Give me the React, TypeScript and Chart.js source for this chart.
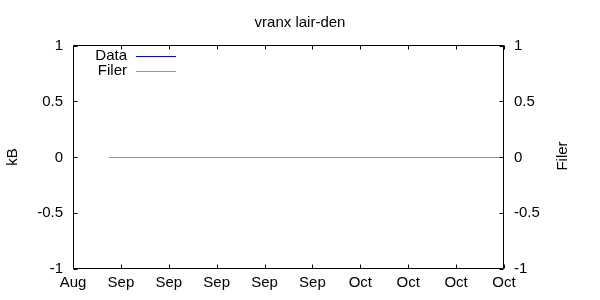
import React, { useEffect, useRef } from "react";
import { Chart, registerables } from "chart.js";

Chart.register(...registerables);

const titleText = "vranx lair-den";
const yLeftTitle = "kB";
const yRightTitle = "Filer";
const xTickLabels = ["Aug", "Sep", "Sep", "Sep", "Sep", "Sep", "Oct", "Oct", "Oct", "Oct"];
const yTicks = [-1, -0.5, 0, 0.5, 1];
const dataSeriesName = "Data";
const filerSeriesName = "Filer";
const dataX: number[] = [];
const dataY: number[] = [];
const filerX = [0.75, 9];
const filerY = [0, 0];

const FONT = '"Liberation Sans", Arial, sans-serif';
const BLUE = "#0000ff";
const GREEN = "#00ff00";

const framePlugin = {
  id: "gnuframe",
  afterDraw(chart: any) {
    const ctx = chart.ctx;
    const a = chart.chartArea;
    const xs = chart.scales.x;
    const yl = chart.scales.y;
    ctx.save();
    ctx.strokeStyle = "#000";
    ctx.lineWidth = 1;
    const L = a.left + 0.5, R = a.right - 0.5, T = a.top - 0.5, B = a.bottom - 0.5;
    ctx.beginPath();
    ctx.rect(L, T, R - L, B - T);
    ctx.stroke();
    const tl = 4;
    ctx.beginPath();
    xTickLabels.forEach((_, i) => {
      const px = Math.round(xs.getPixelForValue(i)) + 0.5;
      ctx.moveTo(px, B);
      ctx.lineTo(px, B - tl);
      ctx.moveTo(px, T);
      ctx.lineTo(px, T + tl);
    });
    yTicks.forEach((v) => {
      const py = Math.round(yl.getPixelForValue(v) - 0.5) + 0.5;
      ctx.moveTo(L, py);
      ctx.lineTo(L + tl, py);
      ctx.moveTo(R, py);
      ctx.lineTo(R - tl, py);
    });
    ctx.stroke();

    ctx.fillStyle = "#000";
    ctx.font = `15px ${FONT}`;
    ctx.textAlign = "center";
    ctx.textBaseline = "alphabetic";
    ctx.fillText(titleText, 300, 27);

    // legend
    ctx.textAlign = "right";
    ctx.fillText(dataSeriesName, 127, 60);
    ctx.fillText(filerSeriesName, 127, 75);
    ctx.strokeStyle = BLUE;
    ctx.beginPath();
    ctx.moveTo(136, 56.5);
    ctx.lineTo(176, 56.5);
    ctx.stroke();
    ctx.strokeStyle = GREEN;
    ctx.beginPath();
    ctx.moveTo(136, 71.5);
    ctx.lineTo(176, 71.5);
    ctx.stroke();

    // axis titles
    ctx.textAlign = "center";
    ctx.textBaseline = "middle";
    ctx.save();
    ctx.translate(13, 157);
    ctx.rotate(-Math.PI / 2);
    ctx.fillText(yLeftTitle, 0, 0);
    ctx.restore();
    ctx.save();
    ctx.translate(563, 156);
    ctx.rotate(-Math.PI / 2);
    ctx.fillText(yRightTitle, 0, 0);
    ctx.restore();
    ctx.restore();
  },
};

export default function App() {
  const ref = useRef<HTMLCanvasElement>(null);
  useEffect(() => {
    if (!ref.current) return;
    const tickFont = { family: FONT, size: 15 };
    const chart = new Chart(ref.current, {
      type: "line",
      data: {
        datasets: [
          {
            label: dataSeriesName,
            data: dataX.map((x, i) => ({ x, y: dataY[i] })),
            borderColor: BLUE,
            borderWidth: 1,
            pointRadius: 0,
          },
          {
            label: filerSeriesName,
            data: filerX.map((x, i) => ({ x, y: filerY[i] })),
            borderColor: GREEN,
            borderWidth: 1,
            pointRadius: 0,
          },
        ],
      },
      options: {
        responsive: false,
        animation: false,
        layout: { padding: { top: 46, left: 0, right: 0, bottom: 0 } },
        plugins: {
          legend: { display: false },
          title: { display: false },
          tooltip: { enabled: false },
        },
        scales: {
          x: {
            type: "linear",
            position: "bottom",
            min: 0,
            max: xTickLabels.length - 1,
            grid: { display: false, drawTicks: false },
            border: { display: false },
            ticks: {
              stepSize: 1,
              font: tickFont,
              color: "#000",
              padding: 5,
              maxRotation: 0,
              autoSkip: false,
              callback: (v: any) => xTickLabels[Math.round(Number(v))] ?? "",
            },
            afterFit: (s: any) => {
              s.height = 31;
            },
          },
          y: {
            type: "linear",
            position: "left",
            min: -1,
            max: 1,
            grid: { display: false, drawTicks: false },
            border: { display: false },
            ticks: {
              stepSize: 0.5,
              font: tickFont,
              color: "#000",
              padding: 10,
              callback: (v: any) => String(v),
            },
            afterFit: (s: any) => {
              s.width = 73;
            },
          },
          y2: {
            type: "linear",
            position: "right",
            min: -1,
            max: 1,
            grid: { display: false, drawTicks: false },
            border: { display: false },
            ticks: {
              stepSize: 0.5,
              font: tickFont,
              color: "#000",
              padding: 10,
              callback: (v: any) => String(v),
            },
            afterFit: (s: any) => {
              s.width = 96;
            },
          },
        },
      },
      plugins: [framePlugin],
    });
    return () => chart.destroy();
  }, []);
  return (
    <div style={{ position: "absolute", left: 0, top: 0, width: 600, height: 300, background: "#fff" }}>
      <canvas ref={ref} width={600} height={300} style={{ display: "block" }} />
    </div>
  );
}
